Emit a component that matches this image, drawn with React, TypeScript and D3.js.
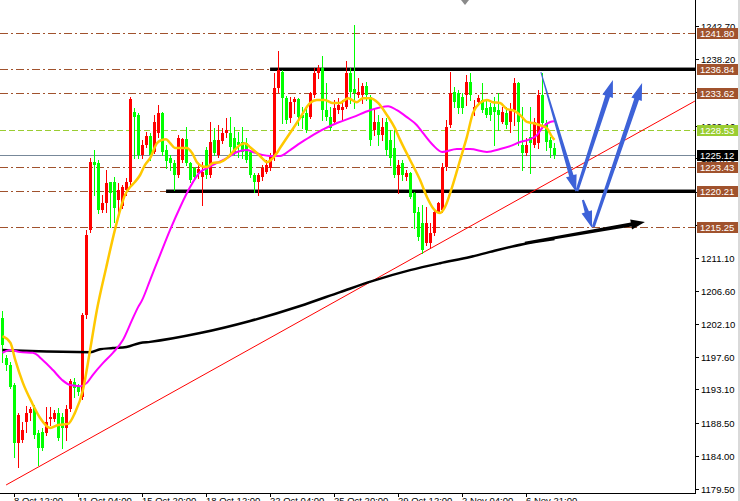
import React from "react";
import * as d3 from "d3";

// ---------- DATA (H4 candles) ----------
const open = [1202.86,1197.39,1196.44,1193.71,1185.79,1186.20,1188.65,1189.88,1190.57,1187.15,
1187.29,1187.15,1189.06,1189.06,1189.88,1189.34,1187.83,1190.43,1194.12,1193.43,
1192.07,1203.27,1214.88,1224.17,1224.03,1217.61,1218.57,1221.44,1221.44,1218.98,
1218.16,1220.34,1221.44,1231.00,1230.59,1225.13,1226.49,1227.72,1225.54,1228.13,
1230.86,1225.81,1224.72,1224.03,1222.39,1224.44,1227.31,1224.03,1223.35,1222.67,
1222.12,1225.81,1222.39,1227.18,1225.13,1227.04,1228.13,1228.13,1227.45,1226.90,
1226.90,1226.77,1225.54,1222.39,1221.44,1222.12,1222.80,1223.35,1224.85,1234.28,
1236.46,1232.91,1230.18,1232.37,1232.78,1230.59,1230.86,1230.32,1233.32,1236.33,
1237.01,1231.27,1230.32,1229.63,1231.27,1231.27,1231.68,1236.33,1234.14,1233.32,
1233.32,1234.55,1233.05,1228.54,1229.63,1227.86,1229.63,1227.18,1226.08,1222.39,
1224.03,1222.12,1222.67,1219.93,1217.34,1215.84,1213.10,1213.10,1214.47,1217.34,
1217.61,1223.49,1229.22,1233.73,1233.60,1233.05,1233.32,1235.10,1231.27,1232.37,
1232.64,1231.55,1231.68,1231.68,1231.27,1229.63,1230.86,1229.63,1231.27,1234.96,
1226.49,1225.40,1227.59,1226.49,1226.77,1233.32,1229.50,1227.18,1226.08];
const high = [1203.81,1197.80,1196.85,1193.98,1189.88,1188.65,1190.84,1190.70,1190.98,1187.56,
1187.83,1190.70,1190.70,1190.29,1190.57,1189.88,1190.98,1194.53,1194.66,1193.84,
1203.54,1214.88,1224.72,1225.81,1224.44,1219.66,1223.08,1221.44,1222.12,1221.30,
1221.03,1221.98,1233.05,1231.55,1230.86,1227.18,1228.27,1228.13,1230.59,1231.96,
1231.00,1226.49,1225.13,1224.44,1227.86,1227.45,1228.95,1224.17,1223.49,1223.76,
1224.17,1226.22,1229.63,1228.81,1229.22,1228.81,1230.18,1230.32,1228.95,1228.27,
1228.95,1227.45,1225.81,1222.67,1222.67,1223.76,1224.44,1225.40,1236.33,1239.33,
1236.74,1233.19,1233.05,1233.05,1232.91,1231.68,1231.55,1233.73,1237.01,1237.42,
1238.65,1234.96,1231.68,1232.64,1232.91,1232.64,1237.97,1237.01,1242.88,1235.64,
1234.96,1235.10,1233.32,1231.55,1230.59,1230.18,1230.18,1228.54,1228.54,1224.44,
1224.44,1223.08,1222.80,1220.07,1218.02,1218.29,1218.02,1215.84,1217.61,1218.70,
1224.03,1229.91,1236.46,1234.42,1234.01,1233.60,1236.05,1236.33,1232.64,1233.32,
1234.96,1232.64,1232.23,1233.05,1233.60,1231.68,1231.68,1232.23,1235.64,1235.10,
1231.68,1227.45,1231.68,1230.18,1234.01,1236.33,1229.91,1227.59,1226.77];
const low = [1196.85,1195.75,1193.30,1183.87,1182.51,1185.92,1187.29,1188.93,1186.47,1182.78,
1184.83,1186.88,1188.24,1188.79,1186.20,1185.10,1186.20,1190.16,1192.07,1192.34,
1191.80,1202.86,1214.61,1219.66,1217.20,1217.34,1217.34,1215.29,1215.97,1217.34,
1217.89,1219.66,1221.03,1224.72,1224.72,1224.72,1226.22,1224.44,1225.40,1227.59,
1225.13,1223.35,1223.08,1220.34,1222.12,1224.17,1223.76,1221.44,1221.71,1221.98,
1218.29,1221.98,1222.12,1225.13,1224.85,1226.77,1227.59,1225.54,1225.13,1224.85,
1224.72,1224.17,1222.12,1220.07,1219.66,1221.71,1222.67,1223.08,1224.44,1233.73,
1229.50,1229.50,1229.63,1230.86,1229.22,1228.81,1228.27,1230.18,1233.05,1235.64,
1229.91,1229.91,1228.54,1229.50,1230.86,1229.91,1231.55,1232.23,1231.55,1233.05,
1232.23,1232.64,1226.49,1227.86,1226.49,1227.18,1225.13,1223.76,1222.12,1219.93,
1221.71,1221.71,1219.25,1215.15,1213.51,1211.74,1212.83,1212.56,1214.20,1217.20,
1217.34,1223.08,1228.95,1231.68,1230.86,1230.86,1231.96,1232.64,1230.59,1231.96,
1231.00,1230.32,1229.91,1226.49,1228.54,1229.50,1228.81,1228.27,1229.22,1226.49,
1223.08,1225.13,1222.67,1226.22,1226.08,1228.81,1225.81,1224.85,1224.72];
const close = [1199.17,1196.44,1193.43,1185.79,1189.61,1187.56,1189.88,1190.43,1186.88,1185.10,
1185.10,1188.65,1189.34,1189.88,1186.47,1187.83,1190.43,1194.25,1193.30,1192.75,
1203.27,1214.20,1224.17,1223.76,1217.61,1218.57,1221.30,1219.93,1217.89,1220.34,
1220.75,1221.44,1232.78,1230.32,1225.13,1226.49,1227.72,1225.13,1229.63,1230.86,
1225.54,1224.31,1224.03,1222.39,1227.45,1227.31,1224.03,1221.71,1222.12,1223.21,
1222.80,1222.39,1226.90,1225.40,1227.18,1228.13,1228.54,1226.22,1225.54,1226.49,
1225.54,1224.44,1222.39,1221.44,1222.39,1223.35,1223.76,1224.85,1234.28,1236.74,
1232.91,1229.91,1232.37,1232.78,1230.32,1230.18,1228.54,1233.60,1236.33,1237.01,
1231.27,1230.32,1228.81,1231.55,1231.96,1231.68,1236.33,1233.73,1233.60,1233.73,
1234.55,1233.32,1227.18,1229.63,1227.86,1228.95,1225.81,1224.72,1222.39,1223.76,
1222.39,1222.67,1219.39,1217.20,1213.92,1212.15,1215.84,1214.47,1217.34,1218.57,
1223.49,1228.95,1233.60,1232.37,1231.55,1231.55,1235.10,1233.32,1231.68,1232.91,
1231.27,1230.59,1230.59,1231.00,1230.59,1231.00,1229.22,1231.27,1234.96,1229.63,
1225.40,1226.49,1226.77,1229.63,1233.32,1229.50,1226.90,1226.08,1225.12];

// moving averages read at [bar index, price]
const maFast: [number, number][] = [[0,1200.4],[2,1199.45],[3.2,1197.1],[5.1,1194.0],[7.4,1191.25],[9.4,1189.2],[11.9,1187.85],[13.9,1188.25],[16.4,1188.4],[18.1,1189.9],[20.1,1193.0],[21.9,1198.5],[23.6,1203.95],[25.9,1209.7],[28.1,1214.9],[29.4,1217.6],[30.6,1219.65],[31.9,1220.75],[33.1,1221.45],[34.4,1222.4],[35.6,1223.75],[36.9,1224.7],[38.6,1226.75],[39.9,1227.2],[40.9,1227.3],[41.9,1226.75],[43.1,1226.1],[44.4,1226.1],[46.1,1226.1],[47.4,1225.4],[48.6,1224.15],[49.9,1223.6],[51.1,1223.5],[52.6,1224.05],[54.4,1224.15],[56.1,1224.7],[57.6,1225.55],[59.4,1226.5],[60.6,1226.75],[61.9,1226.2],[63.6,1225.4],[64.9,1224.7],[66.1,1224.15],[67.4,1224.6],[68.6,1225.4],[69.4,1226.1],[72.4,1228.55],[74.4,1230.2],[76.9,1232.25],[78.6,1232.65],[80.6,1232.65],[82.4,1232.25],[84.4,1232.25],[86.4,1232.9],[88.6,1232.35],[90.1,1232.9],[91.9,1232.9],[93.9,1232.25],[96.1,1230.6],[98.1,1228.8],[99.4,1227.2],[101.9,1224.45],[104.4,1221.7],[106.1,1219.4],[107.6,1217.9],[109.4,1217.2],[110.6,1218.0],[112.4,1220.75],[114.4,1224.45],[116.1,1227.6],[117.6,1230.85],[119.4,1232.25],[121.1,1232.65],[122.6,1232.35],[124.4,1232.25],[126.1,1231.4],[127.6,1231.25],[129.4,1230.6],[131.1,1229.65],[132.6,1229.5],[134.4,1229.2],[136.1,1228.8],[137.4,1227.6],[138,1227.2]];
const maMid: [number, number][] = [[0,1198.1],[1.9,1198.5],[4.4,1198.2],[7.6,1198.1],[10.1,1197.1],[12.6,1195.75],[14.9,1194.4],[16.9,1193.7],[19.4,1193.55],[21.1,1194.0],[22.6,1195.1],[25.1,1196.7],[27.6,1198.1],[30.1,1199.85],[32.4,1202.6],[33.9,1204.35],[34.9,1205.3],[36.9,1208.05],[39.4,1211.5],[41.9,1214.9],[44.4,1218.0],[46.9,1220.75],[49.4,1222.8],[51.1,1223.35],[53.6,1224.05],[56.1,1224.7],[58.6,1225.55],[61.1,1225.8],[62.6,1225.55],[64.9,1225.15],[66.9,1225.0],[69.4,1225.0],[71.9,1225.8],[74.4,1226.75],[76.9,1227.6],[79.9,1228.55],[83.6,1229.5],[87.6,1230.3],[91.9,1231.25],[96.4,1231.8],[98.6,1231.25],[101.1,1230.3],[103.6,1229.2],[105.1,1228.15],[107.6,1226.5],[109.9,1225.55],[113.6,1225.95],[116.9,1225.95],[121.1,1225.55],[124.4,1225.95],[126.9,1226.35],[129.4,1226.9],[131.9,1227.3],[133.6,1227.85],[135.1,1228.95],[136.9,1229.65],[138,1229.75]];
const maSlow: [number, number][] = [[0,1198.5],[7,1198.35],[22,1198.2],[24.4,1198.6],[27.6,1198.75],[31,1198.9],[34.4,1199.45],[36.9,1199.6],[49.4,1200.8],[61.9,1202.45],[74.4,1204.5],[84.4,1206.4],[92.4,1207.9],[101.9,1209.4],[109.4,1210.35],[116.9,1211.2],[121.9,1211.9],[130.1,1212.95],[138,1213.65]];

// levels
const brownLevels = [1241.80, 1236.84, 1233.62, 1223.43, 1220.21, 1215.25];
const greenLevel = 1228.53;
const bidLevel = 1225.12;
const priceBoxes: [number, string][] = [[1241.80,"b"],[1236.84,"b"],[1233.62,"b"],[1228.53,"g"],[1225.12,"k"],[1223.43,"b"],[1220.21,"b"],[1215.25,"b"]];
const supportRes: [number, number][] = [[1236.84, 66.9], [1220.21, 40.9]]; // price, start bar
const trendLine: [number, number][] = [[0.9, 1180.05], [173.1, 1232.5]];
const blueArrows: [number, number, number, number, number, number][] = [
  [134.6, 1236.46, 143.4, 1220.07, 1, 4.5],
  [143.6, 1220.2, 152.6, 1235.37, 3, 5],
  [145.1, 1218.98, 147.4, 1215.15, 2, 4.5],
  [147.7, 1215.3, 159.9, 1234.96, 3, 5],
];
const blackArrow: [number, number, number, number, number, number] = [130.6, 1213.10, 160.6, 1215.97, 2.5, 4];

const priceTicks = ["1179.50","1184.00","1188.50","1193.10","1197.60","1202.10","1206.60","1211.10","1215.60","1220.10","1224.70","1229.10","1233.70","1238.20","1242.70"];
const timeTicks: [number, string][] = [[3,"8 Oct 12:00"],[19,"11 Oct 04:00"],[35,"15 Oct 20:00"],[51,"18 Oct 12:00"],[67,"22 Oct 04:00"],[83,"25 Oct 20:00"],[99,"29 Oct 12:00"],[115,"2 Nov 04:00"],[131,"6 Nov 21:00"]];

const W = 740, H = 501, PR = 695, PB = 493;
const FONT = "'Liberation Sans', Arial, sans-serif";

function arrowPoly(x1: number, y1: number, x2: number, y2: number, w1: number, w2: number, hl: number, hw: number) {
  const dx = x2 - x1, dy = y2 - y1, L = Math.hypot(dx, dy);
  const ux = dx / L, uy = dy / L, nx = -uy, ny = ux;
  const bx = x2 - ux * hl, by = y2 - uy * hl;
  const p = [
    [x1 + nx * w1 / 2, y1 + ny * w1 / 2],
    [bx + nx * w2 / 2, by + ny * w2 / 2],
    [bx + nx * hw / 2, by + ny * hw / 2],
    [x2, y2],
    [bx - nx * hw / 2, by - ny * hw / 2],
    [bx - nx * w2 / 2, by - ny * w2 / 2],
    [x1 - nx * w1 / 2, y1 - ny * w1 / 2],
  ];
  return p.map((q) => q[0].toFixed(1) + "," + q[1].toFixed(1)).join(" ");
}

export default function App() {
  const x = d3.scaleLinear().domain([0, 138]).range([2.5, 554.5]);
  const y = d3.scaleLinear().domain([1179.5, 1241.8]).range([489, 33]);
  const py = (p: number) => Math.round(y(p)) + 0.5;
  const line = d3.line<[number, number]>().x((d) => x(d[0])).y((d) => y(d[1])).curve(d3.curveMonotoneX);
  const boxColor: Record<string, string> = { b: "#a0522d", g: "#9acd32", k: "#000000" };

  return (
    <svg width={W} height={H} style={{ position: "fixed", left: 0, top: 0, background: "#fff" }} fontFamily={FONT}>
      <defs>
        <clipPath id="plot"><rect x={0} y={0} width={PR} height={PB} /></clipPath>
      </defs>
      <rect x={0} y={0} width={W} height={H} fill="#fff" />
      <g clipPath="url(#plot)">
        {/* level lines */}
        {brownLevels.map((p, i) => (
          <line key={"bl" + i} x1={0} x2={PR} y1={py(p)} y2={py(p)} stroke="#a0522d" strokeWidth={1} strokeDasharray="8,3,2,3" />
        ))}
        <line x1={0} x2={PR} y1={py(greenLevel)} y2={py(greenLevel)} stroke="#9acd32" strokeWidth={1} strokeDasharray="6,3" />
        <line x1={0} x2={PR} y1={py(bidLevel)} y2={py(bidLevel)} stroke="#778899" strokeWidth={1} />
        {/* support / resistance */}
        {supportRes.map(([p, b], i) => (
          <g key={"sr" + i}>
            <line x1={x(b)} x2={PR + 4} y1={Math.round(y(p))} y2={Math.round(y(p))} stroke="#8c8c8c" strokeWidth={4} />
            <line x1={x(b)} x2={PR + 4} y1={Math.round(y(p)) + 0.5} y2={Math.round(y(p)) + 0.5} stroke="#000" strokeWidth={3} />
          </g>
        ))}
        {/* trend line */}
        <line x1={x(trendLine[0][0])} y1={y(trendLine[0][1])} x2={x(trendLine[1][0])} y2={y(trendLine[1][1])} stroke="#ff0000" strokeWidth={1} />
        {/* candles */}
        {open.map((o, i) => {
          const c = close[i];
          const hi = Math.max(high[i], o, c), lo = Math.min(low[i], o, c);
          const col = c >= o ? "#ff0000" : "#00ff00";
          const cx = x(i);
          const top = Math.round(y(Math.max(o, c)));
          const bot = Math.round(y(Math.min(o, c)));
          return (
            <g key={"c" + i}>
              <line x1={cx} x2={cx} y1={Math.round(y(hi))} y2={Math.round(y(lo)) + 1} stroke={col} strokeWidth={1} />
              <rect x={cx - 1.5} y={top} width={3} height={Math.max(1, bot - top)} fill={col} />
            </g>
          );
        })}
        {/* moving averages */}
        <path d={line(maSlow) || ""} fill="none" stroke="#000" strokeWidth={2.5} />
        <path d={line(maMid) || ""} fill="none" stroke="#ff00ff" strokeWidth={2} />
        <path d={line(maFast) || ""} fill="none" stroke="#ffc800" strokeWidth={2.5} />
        {/* drawn arrows */}
        <polygon points={arrowPoly(x(blackArrow[0]), y(blackArrow[1]), x(blackArrow[2]), y(blackArrow[3]), blackArrow[4], blackArrow[5], 14, 10)} fill="#000" />
        {blueArrows.map((a, i) => (
          <polygon key={"ba" + i} points={arrowPoly(x(a[0]), y(a[1]), x(a[2]), y(a[3]), a[4], a[5], 17, 11)} fill="#3d62d8" />
        ))}
      </g>
      {/* shift marker */}
      <polygon points="461,0 469,0 465,5" fill="#8a8a8a" />
      {/* axes */}
      <line x1={PR + 0.5} x2={PR + 0.5} y1={0} y2={PB + 1} stroke="#000" />
      <line x1={0} x2={PR + 1} y1={PB + 0.5} y2={PB + 0.5} stroke="#000" />
      {priceTicks.map((t, i) => {
        const yy = py(+t);
        return (
          <g key={"pt" + i}>
            <line x1={PR} x2={PR + 4} y1={yy} y2={yy} stroke="#000" />
            <text x={PR + 6} y={yy + 3.5} fontSize={9.5} fill="#000">{t}</text>
          </g>
        );
      })}
      {timeTicks.map(([b, t], i) => (
        <g key={"tt" + i}>
          <line x1={Math.round(x(b)) - 0.5} x2={Math.round(x(b)) - 0.5} y1={PB} y2={PB + 4} stroke="#000" />
          <text x={Math.round(x(b)) - 1} y={504} fontSize={9.5} fill="#000">{t}</text>
        </g>
      ))}
      {priceBoxes.map(([p, k], i) => {
        const yy = Math.round(y(p));
        return (
          <g key={"pb" + i}>
            <rect x={697} y={yy - 5} width={41} height={11} fill={boxColor[k]} />
            <text x={700} y={yy + 4} fontSize={9.5} fill="#fff">{p.toFixed(2)}</text>
          </g>
        );
      })}
      <rect x={738} y={0} width={2} height={H} fill="#d9d9d9" />
    </svg>
  );
}
